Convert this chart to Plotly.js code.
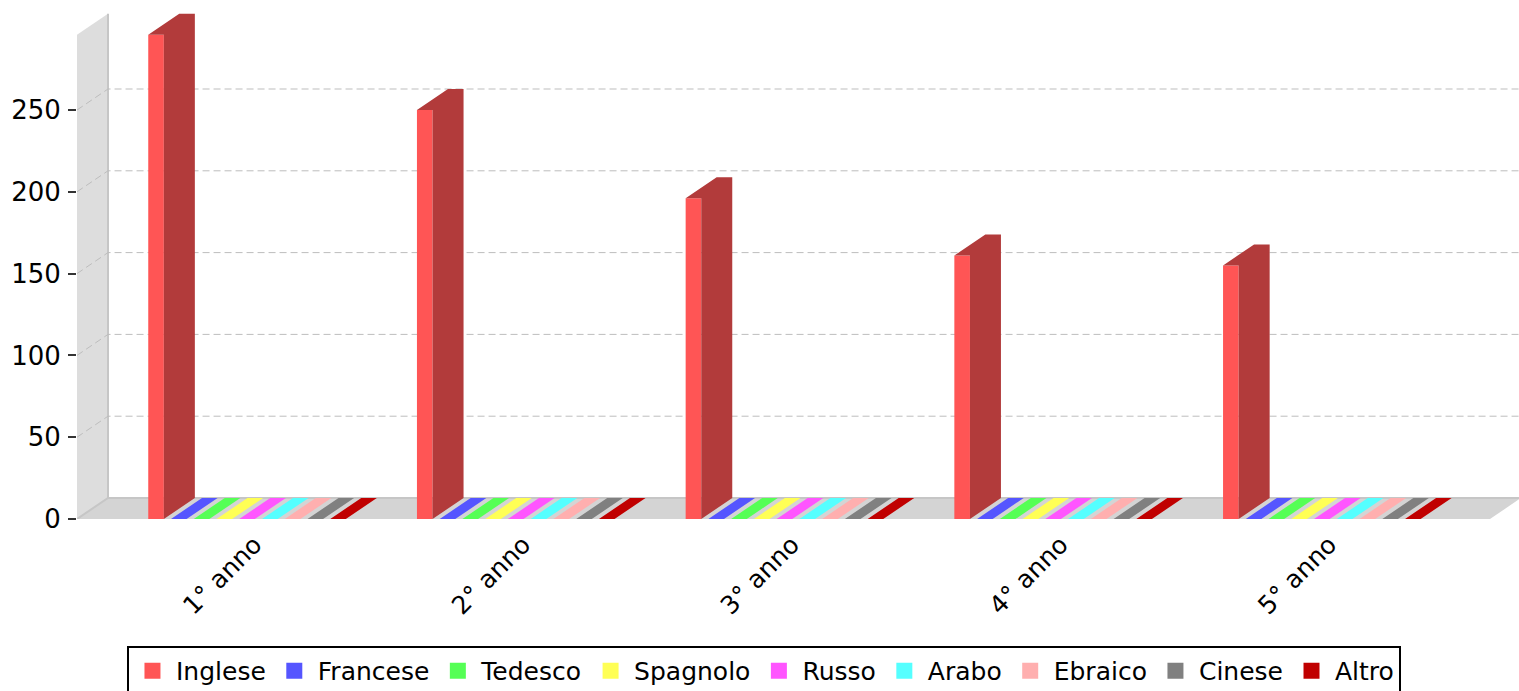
<!DOCTYPE html>
<html><head><meta charset="utf-8">
<script src="https://cdn.plot.ly/plotly-3.0.1.min.js"></script>
<style>html,body{margin:0;padding:0;background:#fff}#chart{width:1519px;height:691px}</style>
</head><body><div id="chart"></div>
<script>
// ---- data ----
const categories = ['1° anno', '2° anno', '3° anno', '4° anno', '5° anno'];
const seriesNames = ['Inglese', 'Francese', 'Tedesco', 'Spagnolo', 'Russo', 'Arabo', 'Ebraico', 'Cinese', 'Altro'];
const inglese  = [296, 250, 196, 161, 155];
const francese = [0, 0, 0, 0, 0];
const tedesco  = [0, 0, 0, 0, 0];
const spagnolo = [0, 0, 0, 0, 0];
const russo    = [0, 0, 0, 0, 0];
const arabo    = [0, 0, 0, 0, 0];
const ebraico  = [0, 0, 0, 0, 0];
const cinese   = [0, 0, 0, 0, 0];
const altro    = [0, 0, 0, 0, 0];
const seriesValues = [inglese, francese, tedesco, spagnolo, russo, arabo, ebraico, cinese, altro];
const yTickVals = [0, 50, 100, 150, 200, 250];

// ---- style ----
const colors = ['#ff5555', '#5555ff', '#55ff55', '#ffff55', '#ff55ff', '#55ffff', '#ffafaf', '#808080', '#c00000'];
function darker(hex) {
  const n = parseInt(hex.slice(1), 16);
  const r = Math.floor(((n >> 16) & 255) * 0.7), g = Math.floor(((n >> 8) & 255) * 0.7), b = Math.floor((n & 255) * 0.7);
  return 'rgb(' + r + ',' + g + ',' + b + ')';
}
const pxPerCat = 268.7, pxPerVal = 1.636;
const groupStart = -98.75 / pxPerCat, slot = 22.75 / pxPerCat, barW = 15.6 / pxPerCat;
const dx = 31 / pxPerCat, dy = 21 / pxPerVal;
const xMin = (77 - 247) / pxPerCat, xMax = (1519 - 247) / pxPerCat;
const yMax = 509 / pxPerVal;
const axisTop = 296;
const floorRight = (1490 - 247) / pxPerCat;
const FONT = 'DejaVu Sans, sans-serif';

const traces = [];
// walls
traces.push({x: [xMin, xMin, xMin + dx, xMin + dx, xMin], y: [0, axisTop, axisTop + dy, dy, 0], fill: 'toself', fillcolor: '#dddddd', mode: 'lines', line: {width: 0}, hoverinfo: 'skip', showlegend: false});
traces.push({x: [xMin, floorRight, floorRight + dx, xMin + dx, xMin], y: [0, 0, dy, dy, 0], fill: 'toself', fillcolor: '#d4d4d4', mode: 'lines', line: {width: 0}, hoverinfo: 'skip', showlegend: false});
traces.push({x: [xMin + dx, xMin + dx, null, xMin, xMin + dx, xMax + 1], y: [axisTop + dy, dy, null, 0, dy, dy], mode: 'lines', line: {color: '#c6c6c6', width: 2}, hoverinfo: 'skip', showlegend: false});
// gridlines
const gx = [], gy = [];
yTickVals.filter(v => v > 0).forEach(v => { gx.push(xMin, xMin + dx, xMax + 1, null); gy.push(v, v + dy, v + dy, null); });
traces.push({x: gx, y: gy, mode: 'lines', line: {color: '#bdbdbd', width: 1, dash: '7px,4px'}, hoverinfo: 'skip', showlegend: false});

// bars
seriesValues.forEach((vals, s) => {
  const fx = [], fy = [], sx = [], sy = [], tx = [], ty = [];
  vals.forEach((v, i) => {
    const x0 = i + groupStart + s * slot, x1 = x0 + barW;
    if (v > 0) {
      fx.push(x0, x1, x1, x0, x0, null); fy.push(0, 0, v, v, 0, null);
      sx.push(x1, x1 + dx, x1 + dx, x1, x1, null); sy.push(0, dy, v + dy, v, 0, null);
      sx.push(x0, x1, x1 + dx, x0 + dx, x0, null); sy.push(v, v, v + dy, v + dy, v, null);
    } else {
      tx.push(x0, x1, x1 + dx, x0 + dx, x0, null); ty.push(v, v, v + dy, v + dy, v, null);
    }
  });
  if (fx.length) traces.push({x: fx, y: fy, fill: 'toself', fillcolor: colors[s], mode: 'lines', line: {width: 0}, hoverinfo: 'skip', showlegend: false});
  if (sx.length) traces.push({x: sx, y: sy, fill: 'toself', fillcolor: darker(colors[s]), mode: 'lines', line: {width: 0}, hoverinfo: 'skip', showlegend: false});
  if (tx.length) traces.push({x: tx, y: ty, fill: 'toself', fillcolor: colors[s], mode: 'lines', line: {width: 0}, hoverinfo: 'skip', showlegend: false});
});
// legend entries
seriesNames.forEach((name, s) => {
  traces.push({x: [null], y: [null], name: name, mode: 'markers', marker: {symbol: 'square', size: 16, color: colors[s]}, hoverinfo: 'skip', showlegend: true});
});

const layout = {
  width: 1519, height: 691,
  margin: {l: 77, r: 0, t: 10, b: 172, autoexpand: false},
  paper_bgcolor: '#ffffff', plot_bgcolor: '#ffffff',
  showlegend: true,
  font: {family: FONT, size: 24, color: '#000'},
  xaxis: {range: [xMin, xMax], showgrid: false, zeroline: false, showline: false,
    tickmode: 'array', tickvals: categories.map((c, i) => i + 0.028), ticktext: categories,
    tickangle: -45, ticks: '', ticklabelstandoff: 5, tickfont: {family: FONT, size: 25, color: '#000'}},
  yaxis: {range: [0, yMax], showgrid: false, zeroline: false, showline: false,
    tickmode: 'array', tickvals: yTickVals, ticktext: yTickVals.map(String),
    ticks: 'outside', ticklen: 8, tickwidth: 2, tickcolor: '#333', ticklabelstandoff: 2,
    tickfont: {family: FONT, size: 26, color: '#000'}},
  legend: {orientation: 'h', x: 0.4764, xanchor: 'center', y: -0.2495, yanchor: 'top',
    bordercolor: '#000', borderwidth: 2, bgcolor: '#fff', itemsizing: 'trace', itemwidth: 37,
    font: {family: FONT, size: 25, color: '#000'}}
};
Plotly.newPlot('chart', traces, layout, {displayModeBar: false, staticPlot: true});
</script></body></html>
